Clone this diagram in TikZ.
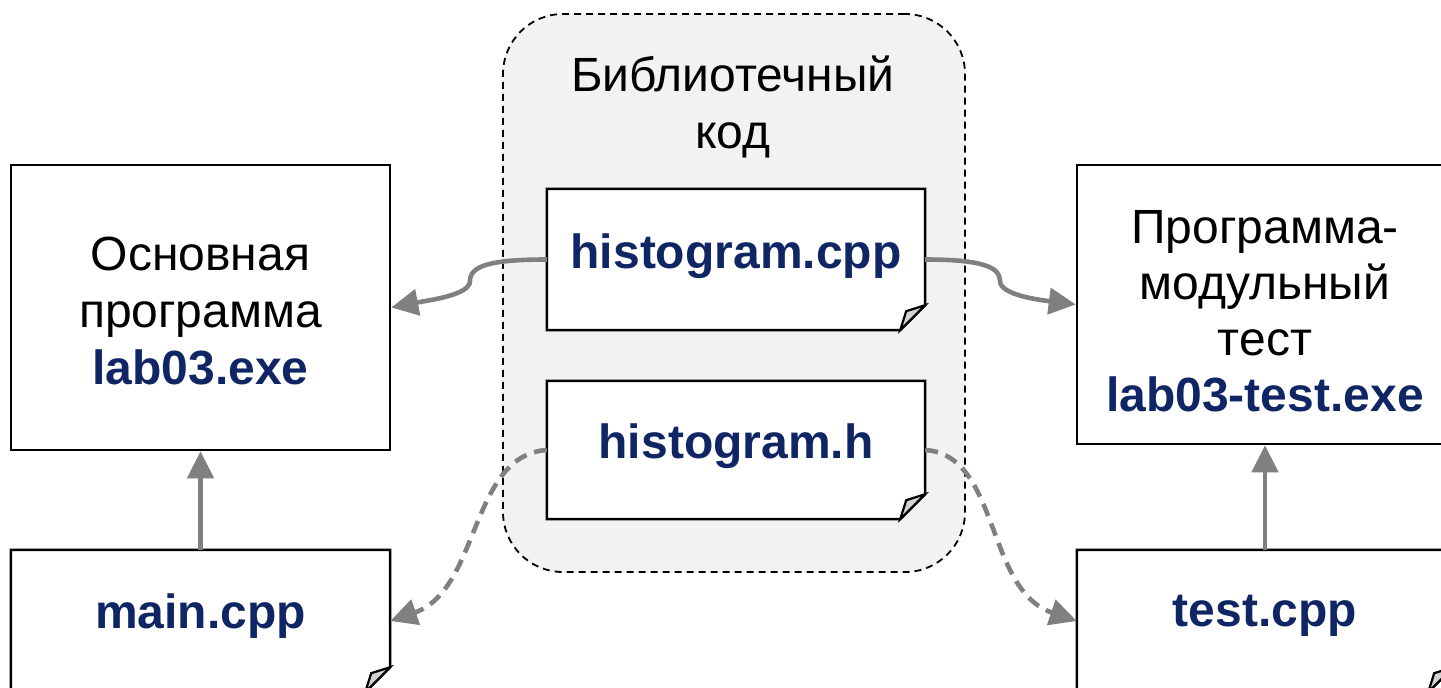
\documentclass[tikz,border=0pt]{standalone}
\usepackage{fontspec}
\setmainfont{Liberation Sans}
\usetikzlibrary{arrows.meta}
\definecolor{navy}{RGB}{16,38,100}
\definecolor{arrowgray}{RGB}{128,128,128}
\definecolor{groupfill}{RGB}{242,242,242}
\definecolor{foldfill}{RGB}{210,210,210}
\newcommand\drawdoc[1]{%
  \filldraw[docline] (#1.north west) -- (#1.north east) -- ([yshift=25pt]#1.south east) -- ([xshift=-25pt]#1.south east) -- (#1.south west) -- cycle;
  \filldraw[foldline] ([yshift=25pt]#1.south east) -- ([xshift=-19pt,yshift=19pt]#1.south east) -- ([xshift=-25pt]#1.south east) -- cycle;}
\begin{document}
\begin{tikzpicture}[x=1pt,y=-1pt,
  every node/.style={font=\fontsize{48}{57}\selectfont, align=center, inner sep=0pt},
  box/.style={draw=black, line width=2.5pt, fill=white},
  docshape/.style={draw=none, minimum width=378pt, minimum height=141pt},
  docline/.style={draw=black, line width=2.5pt, fill=white, line join=miter},
  foldline/.style={draw=black, line width=2.2pt, fill=foldfill, line join=miter},
  doctext/.style={text=navy, font=\fontsize{48}{57}\selectfont\bfseries},
  group/.style={draw=black, line width=1.8pt, dash pattern=on 7pt off 5pt, rounded corners=60pt, fill=groupfill},
  flow/.style={draw=arrowgray, line width=4.6pt, -{Triangle[length=27pt,width=26pt]}},
  dflow/.style={flow, dash pattern=on 13pt off 8pt}]
\useasboundingbox (0,0) rectangle (1441,688);
\clip (0,0) rectangle (1441,688);

% library group
\node[group, minimum width=462pt, minimum height=558pt] (lib) at (734,293) {};
\node (libtitle) at (733,107) {Библиотечный\\код};

% documents
\node[docshape] (hcpp) at (736,259.5) {};
\drawdoc{hcpp}
\node[doctext] (hcppt) at (736,256) {histogram.cpp};

\node[docshape, minimum height=138pt] (hh) at (736,450) {};
\drawdoc{hh}
\node[doctext] (hht) at (736,446) {histogram.h};

\node[docshape, minimum width=379pt, minimum height=142pt] (maincpp) at (200.5,621) {};
\drawdoc{maincpp}
\node[doctext] (maincppt) at (200.5,616) {main.cpp};

\node[docshape, minimum width=376pt, minimum height=142pt] (testcpp) at (1265,621) {};
\drawdoc{testcpp}
\node[doctext] (testcppt) at (1265,616) {test.cpp};

% executables
\node[box, minimum width=379pt, minimum height=285pt] (mainexe) at (200.5,307.5) {};
\node (mainexet) at (200.5,311) {Основная\\программа\\\textcolor{navy}{\bfseries lab03.exe}};

\node[box, minimum width=376pt, minimum height=279pt] (testexe) at (1265,304.5) {};
\node[font=\fontsize{48}{56}\selectfont] (testexet) at (1265,311) {Программа-\\модульный\\тест\\\textcolor{navy}{\bfseries lab03-test.exe}};

% connectors
\draw[flow] (maincpp.north) -- (mainexe.south);
\draw[flow] (testcpp.north) -- (testexe.south);
\draw[flow] (hcpp.west) .. controls +(-57,0) and (470,266) .. (470,281) .. controls (470,295) and (430,300) .. (mainexe.east);
\draw[flow] (hcpp.east) .. controls +(60,0) and (1000,268) .. (1000,281) .. controls (1000,295) and (1040,300) .. (testexe.west);
\draw[dflow] (hh.west) .. controls (470,455) and (480,590) .. (maincpp.east);
\draw[dflow] (hh.east) .. controls (1000,455) and (985,590) .. (testcpp.west);
\end{tikzpicture}
\end{document}
